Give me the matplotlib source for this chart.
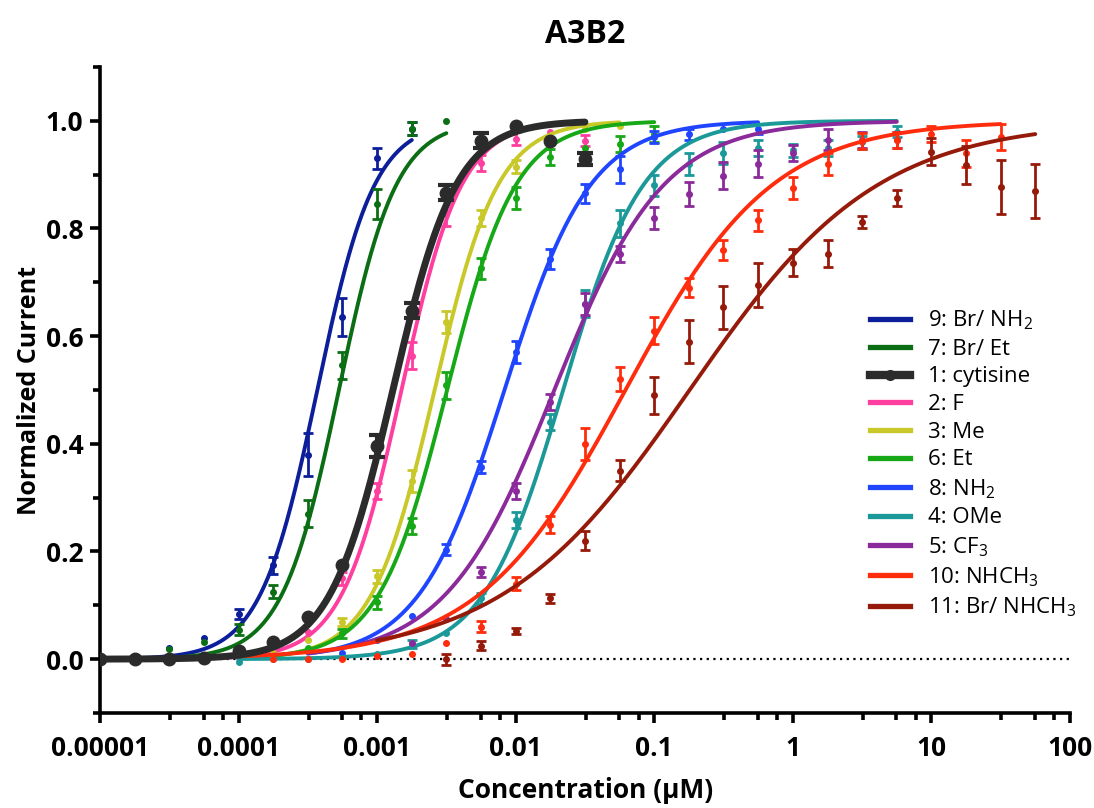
import numpy as np
import matplotlib
matplotlib.use("Agg")
import matplotlib.pyplot as plt
from matplotlib.lines import Line2D
from matplotlib.ticker import FixedLocator, NullFormatter

plt.rcParams['font.family'] = ['Open Sans', 'DejaVu Sans']
plt.rcParams['mathtext.fontset'] = 'custom'
plt.rcParams['mathtext.rm'] = 'Open Sans'
plt.rcParams['mathtext.it'] = 'Open Sans:italic'
plt.rcParams['mathtext.bf'] = 'Open Sans:bold'

# concentrations used in the assay (uM), quarter-log steps
conc_steps = [1e-5, 1.78e-5, 3.16e-5, 5.62e-5, 1e-4, 1.78e-4, 3.16e-4, 5.62e-4,
              1e-3, 1.78e-3, 3.16e-3, 5.62e-3, 0.01, 0.0178, 0.0316, 0.0562,
              0.1, 0.178, 0.316, 0.562, 1, 1.78, 3.16, 5.62, 10, 17.8, 31.6, 56.2]

# legend order
labels = ['9: Br/ NH$_2$', '7: Br/ Et', '1: cytisine', '2: F', '3: Me', '6: Et',
          '8: NH$_2$', '4: OMe', '5: CF$_3$', '10: NHCH$_3$', '11: Br/ NHCH$_3$']

# fitted EC50 (uM) and hill slope
ec50 = [3.7e-4, 5.3e-4, 1.3e-3, 1.5e-3, 2.6e-3, 3.2e-3, 8.3e-3, 2.2e-2, 1.9e-2, 6.2e-2, 0.18]
hill = [2.1, 2.1, 1.9, 2.0, 1.9, 1.75, 1.4, 1.5, 1.1, 0.82, 0.64]

# index of first concentration in conc_steps for every compound
first_idx = [0, 2, 0, 2, 5, 6, 7, 4, 9, 5, 10]
# where the fitted curve starts (uM)
curve_start = [1e-5, 1e-5, 1e-5, 1e-5, 1e-4, 1.78e-4, 3.16e-4, 1e-4, 3.16e-4, 1e-4, 1e-3]

resp_9 = [0.0, 0.003, 0.02, 0.039, 0.084, 0.174, 0.38, 0.635, 0.93, 0.985]
sem_9 = [0, 0, 0, 0, 0.009, 0.016, 0.04, 0.035, 0.02, 0.012]

resp_7 = [0.018, 0.032, 0.055, 0.125, 0.27, 0.546, 0.846, 0.985, 1.0]
sem_7 = [0, 0, 0.01, 0.012, 0.025, 0.025, 0.028, 0.012, 0]

resp_1 = [0.0, 0.0, 0.0, 0.003, 0.015, 0.032, 0.078, 0.175, 0.396, 0.647, 0.866,
          0.963, 0.99, 0.963, 0.929]
sem_1 = [0, 0, 0, 0, 0, 0, 0, 0, 0.02, 0.014, 0.014, 0.014, 0, 0, 0.012]

resp_2 = [-0.005, 0.0, 0.003, 0.007, 0.05, 0.15, 0.313, 0.564, 0.829, 0.922, 0.967,
          0.98, 0.963]
sem_2 = [0, 0, 0, 0, 0, 0.012, 0.015, 0.025, 0.025, 0.015, 0.012, 0, 0.01]

resp_3 = [0.012, 0.035, 0.069, 0.154, 0.331, 0.626, 0.819, 0.915, 0.96, 0.985, 0.99]
sem_3 = [0, 0, 0.008, 0.012, 0.02, 0.02, 0.015, 0.012, 0, 0, 0]

resp_6 = [0.02, 0.048, 0.106, 0.247, 0.509, 0.726, 0.857, 0.933, 0.95, 0.957, 0.975]
sem_6 = [0, 0.008, 0.012, 0.015, 0.025, 0.02, 0.02, 0.015, 0, 0.015, 0.015]

resp_8 = [0.011, 0.035, 0.08, 0.203, 0.357, 0.571, 0.743, 0.865, 0.91, 0.97, 0.975,
          0.985, 0.985]
sem_8 = [0, 0, 0, 0.01, 0.012, 0.02, 0.018, 0.018, 0.025, 0.012, 0.01, 0, 0.01]

resp_4 = [-0.005, 0.0, 0.0, 0.003, 0.01, 0.028, 0.048, 0.113, 0.258, 0.44, 0.66, 0.81,
          0.88, 0.92, 0.94, 0.95, 0.945, 0.95, 0.96, 0.98]
sem_4 = [0, 0, 0, 0, 0, 0.008, 0, 0.01, 0.015, 0.015, 0.025, 0.025, 0.02, 0.02, 0.02,
         0.015, 0.012, 0.015, 0.012, 0.01]

resp_5 = [0.03, 0.075, 0.162, 0.312, 0.478, 0.66, 0.752, 0.819, 0.864, 0.898, 0.92,
          0.94, 0.965, 0.965, 0.965]
sem_5 = [0, 0, 0.01, 0.015, 0.015, 0.02, 0.015, 0.02, 0.022, 0.025, 0.025, 0.015,
         0.02, 0.015, 0.015]

resp_10 = [0.0, 0.0, 0.0, 0.005, 0.01, 0.03, 0.06, 0.14, 0.25, 0.40, 0.52, 0.61, 0.69,
           0.76, 0.815, 0.875, 0.92, 0.963, 0.965, 0.975, 0.94, 0.97]
sem_10 = [0, 0, 0, 0, 0, 0, 0.01, 0.012, 0.015, 0.03, 0.022, 0.025, 0.018, 0.018, 0.02,
          0.02, 0.02, 0.015, 0.015, 0.015, 0.025, 0.025]

resp_11 = [0.0, 0.025, 0.052, 0.113, 0.22, 0.35, 0.49, 0.59, 0.654, 0.695, 0.736, 0.753,
           0.812, 0.857, 0.943, 0.918, 0.877, 0.87]
sem_11 = [0.01, 0.008, 0.006, 0.008, 0.018, 0.02, 0.035, 0.04, 0.04, 0.04, 0.025, 0.025,
          0.012, 0.015, 0.025, 0.035, 0.05, 0.05]

responses = [resp_9, resp_7, resp_1, resp_2, resp_3, resp_6, resp_8, resp_4, resp_5, resp_10, resp_11]
sems = [sem_9, sem_7, sem_1, sem_2, sem_3, sem_6, sem_8, sem_4, sem_5, sem_10, sem_11]

colors = ['#0c1e99', '#0b6e14', '#2b2b2b', '#ff3fa0', '#c8c828', '#16a816',
          '#1f45ff', '#1b9898', '#8b2a9b', '#ff2d0d', '#961a0a']

fig = plt.figure(figsize=(10.94, 8.08), dpi=100)
ax = fig.add_axes([0.0914, 0.1176, 0.8866, 0.7995])

ax.axhline(0, color='black', lw=1.6, ls=(0, (1, 2)), zorder=1)

handles = []
for i in range(len(labels)):
    y = np.array(responses[i])
    e = np.array(sems[i])
    x = np.array(conc_steps[first_idx[i]:first_idx[i] + len(y)])
    big = (i == 2)
    lw = 5 if big else 2.8
    ms = 9 if big else 4
    z = 4 if big else 2

    xs = np.logspace(np.log10(curve_start[i]), np.log10(x[-1]), 300)
    ys = 1.0 / (1.0 + (ec50[i] / xs) ** hill[i])
    ax.plot(xs, ys, color=colors[i], lw=lw, zorder=z, solid_capstyle='round')
    ax.plot(x, y, 'o', color=colors[i], ms=ms, zorder=z)
    m = e > 0
    ax.errorbar(x[m], y[m], yerr=e[m], fmt='none', ecolor=colors[i],
                elinewidth=3 if big else 2, capsize=6 if big else 3.5,
                capthick=3 if big else 2, zorder=z)
    handles.append(Line2D([], [], color=colors[i], lw=6 if big else 3.8,
                          marker='o', ms=7 if big else 2.5))

ax.set_xscale('log')
ax.set_xlim(1e-5, 100)
ax.set_ylim(-0.1, 1.1)

xt = [1e-5, 1e-4, 1e-3, 1e-2, 1e-1, 1, 10, 100]
ax.xaxis.set_major_locator(FixedLocator(xt))
ax.set_xticklabels(['0.00001', '0.0001', '0.001', '0.01', '0.1', '1', '10', '100'])
minor = [d * s for d in xt[:-1] for s in (3.2, 5.6, 7.7)]
ax.xaxis.set_minor_locator(FixedLocator(minor))
ax.xaxis.set_minor_formatter(NullFormatter())

ax.set_yticks([0, 0.2, 0.4, 0.6, 0.8, 1.0])
ax.set_yticklabels(['0.0', '0.2', '0.4', '0.6', '0.8', '1.0'])
ax.yaxis.set_minor_locator(FixedLocator([-0.1, 0.1, 0.3, 0.5, 0.7, 0.9, 1.1]))

for s in ['top', 'right']:
    ax.spines[s].set_visible(False)
for s in ['left', 'bottom']:
    ax.spines[s].set_linewidth(2.6)

ax.tick_params(axis='both', which='major', length=7, width=2.6, labelsize=19, pad=5)
ax.tick_params(axis='both', which='minor', length=5, width=2.6)
ax.tick_params(axis='x', which='major', pad=9)
for t in ax.get_xticklabels() + ax.get_yticklabels():
    t.set_fontweight('bold')

fig.text(0.535, 0.957, 'A3B2', ha='center', va='center', fontsize=23, fontweight='bold')
fig.text(0.535, 0.022, 'Concentration (µM)', ha='center', va='center', fontsize=19,
         fontweight='bold')
fig.text(0.027, 0.517, 'Normalized Current', ha='center', va='center', rotation=90,
         fontsize=18, fontweight='bold')

leg = ax.legend(handles, labels, loc='upper left', bbox_to_anchor=(0.785, 0.64),
                frameon=False, fontsize=16, handlelength=1.8, handletextpad=0.8,
                labelspacing=0.3, borderaxespad=0)

fig.savefig('out.png', dpi=100)
